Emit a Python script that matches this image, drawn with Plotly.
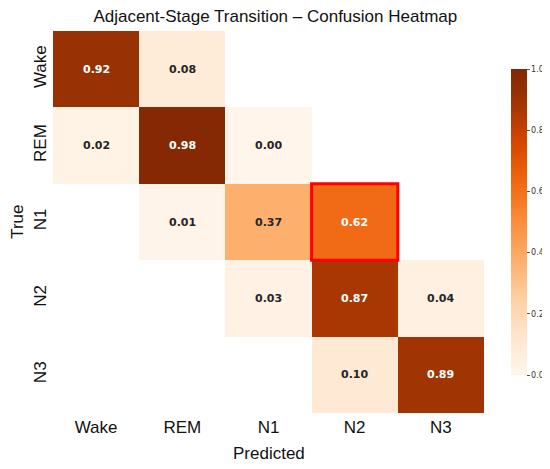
import plotly.graph_objects as go

STAGES = ["Wake", "REM", "N1", "N2", "N3"]
NAN = None
# rows = true stage, columns = predicted stage
VALUES = [
    [0.92, 0.08, NAN, NAN, NAN],
    [0.02, 0.98, 0.00, NAN, NAN],
    [NAN, 0.01, 0.37, 0.62, NAN],
    [NAN, NAN, 0.03, 0.87, 0.04],
    [NAN, NAN, NAN, 0.10, 0.89],
]
HIGHLIGHT = ("N1", "N2")  # (true, predicted)
CBAR_TICKS = [0.0, 0.2, 0.4, 0.6, 0.8, 1.0]

fig = go.Figure(go.Heatmap(
    z=VALUES, x=STAGES, y=STAGES,
    colorscale="Oranges", zmin=0, zmax=1,
    hoverongaps=False,
    colorbar=dict(
        x=1.062, xanchor="left", xpad=0, y=0.5, yanchor="middle", ypad=0,
        len=0.8, thickness=16, outlinewidth=0,
        tickvals=CBAR_TICKS, tickformat=".1f", ticks="outside", ticklen=3,
        tickcolor="#555", tickfont=dict(family="DejaVu Sans", size=8, color="#333"),
    ),
))

for i, row in enumerate(VALUES):
    for j, v in enumerate(row):
        if v is None:
            continue
        fig.add_annotation(
            x=STAGES[j], y=STAGES[i], text=f"<b>{v:.2f}</b>", showarrow=False,
            font=dict(family="DejaVu Sans", size=11,
                      color="white" if v > 0.5 else "#262626"),
        )

ti = STAGES.index(HIGHLIGHT[0])
pj = STAGES.index(HIGHLIGHT[1])
fig.add_shape(type="rect", xref="x", yref="y",
              x0=pj - 0.5, x1=pj + 0.5, y0=ti - 0.5, y1=ti + 0.5,
              line=dict(color="red", width=3))

# axis titles as annotations so the margins stay fixed
fig.add_annotation(text="Predicted", xref="paper", yref="paper", x=0.5, y=-0.107,
                   yanchor="middle", showarrow=False, font=dict(size=17, color="#111"))
fig.add_annotation(text="True", xref="paper", yref="paper", x=-0.084, y=0.5,
                   xanchor="center", textangle=-90, showarrow=False,
                   font=dict(size=17, color="#111"))

# page body adds 8px on top/left, so the figure is shifted by 8px
fig.update_layout(
    width=550, height=461,
    margin=dict(l=45, r=74, t=23, b=56, autoexpand=False),
    paper_bgcolor="white", plot_bgcolor="white",
    font=dict(family="Liberation Sans, Arial", color="#111"),
    title=dict(text="Adjacent-Stage Transition – Confusion Heatmap",
               x=0.486, xanchor="center", y=0.983, yanchor="middle",
               font=dict(size=17, color="#111")),
    xaxis=dict(tickfont=dict(size=17), showgrid=False, zeroline=False,
               ticks="", automargin=False, ticklabelstandoff=2),
    yaxis=dict(tickfont=dict(size=17), tickangle=-90, autorange="reversed",
               showgrid=False, zeroline=False, ticks="", automargin=False,
               ticklabelstandoff=3),
)

fig.write_html("out.html")
